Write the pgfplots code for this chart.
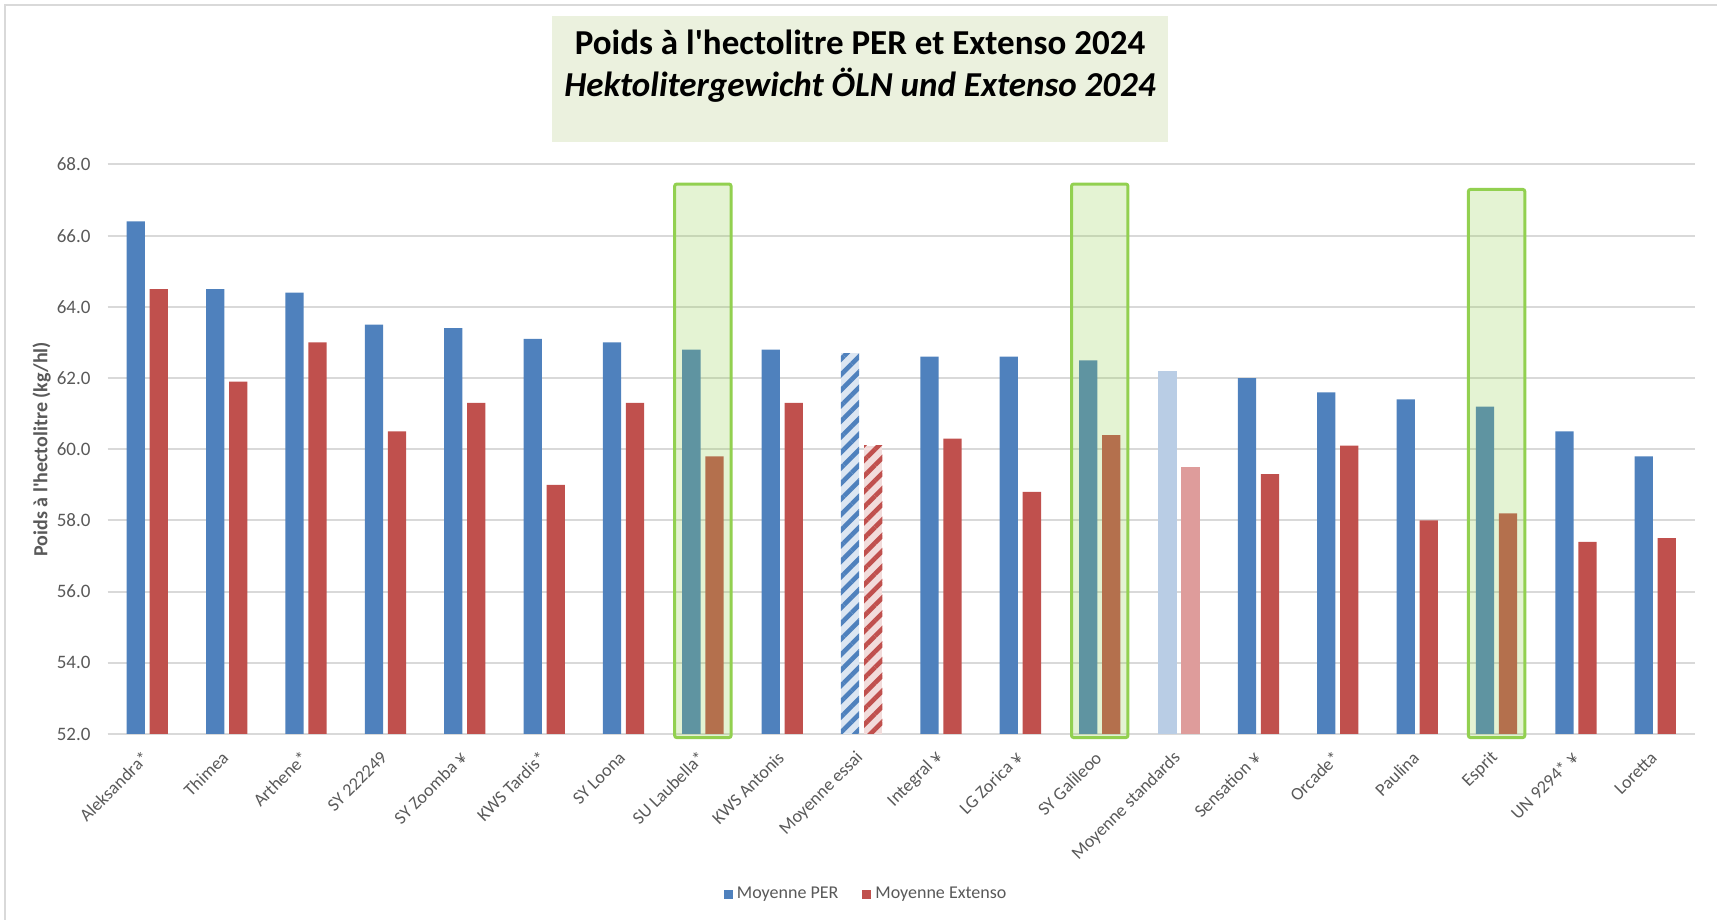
\documentclass[border=0pt]{standalone}
\usepackage{pgfplots}
\pgfplotsset{compat=1.18}
\usepackage{fontspec}
\setmainfont{Carlito}
\usetikzlibrary{patterns.meta}
\definecolor{perblue}{HTML}{4F81BD}
\definecolor{extred}{HTML}{C0504D}
\definecolor{perlight}{HTML}{B9CDE5}
\definecolor{extlight}{HTML}{DE9C9B}
\definecolor{essaiblue}{HTML}{DCE6F2}
\definecolor{essaired}{HTML}{F2DCDB}
\definecolor{gridgray}{HTML}{D9D9D9}
\definecolor{txtgray}{HTML}{595959}
\definecolor{titlebg}{HTML}{EBF1DE}
\definecolor{boxgreen}{HTML}{92D050}
\begin{document}
\begin{tikzpicture}
\path[use as bounding box] (0,0) rectangle (858.5pt,460pt);
\draw[gridgray, line width=1pt] (2.5pt,0) -- (2.5pt,457.5pt) -- (858.5pt,457.5pt);
\fill[titlebg] (276pt,389pt) rectangle (584pt,452pt);
\node[font=\fontsize{17.5}{20}\selectfont\bfseries] at (430pt,439pt) {Poids à l\textquotesingle hectolitre PER et Extenso 2024};
\node[font=\fontsize{17.5}{20}\selectfont\bfseries\itshape] at (430pt,417.5pt) {Hektolitergewicht ÖLN und Extenso 2024};
\begin{axis}[
  at={(53.8pt,93pt)}, anchor=south west,
  scale only axis, width=793.7pt, height=284.75pt,
  xmin=-0.5, xmax=19.5, ymin=52, ymax=68,
  ybar, bar width=0.23,
  clip mode=individual,
  axis x line*=bottom, axis y line*=left,
  x axis line style={draw=gridgray, line width=1pt},
  y axis line style={draw=none},
  tick style={draw=none},
  ymajorgrids, major grid style={draw=gridgray, line width=1pt},
  ytick={52,54,...,68},
  yticklabel style={font=\fontsize{9.5}{11}\selectfont, text=txtgray, /pgf/number format/fixed, /pgf/number format/fixed zerofill, /pgf/number format/precision=1, /pgf/number format/assume math mode=true},
  yticklabel shift=5pt,
  xtick={0,...,19},
  xticklabels={Aleksandra*, Thimea, Arthene*, SY 222249, SY Zoomba ¥, KWS Tardis*, SY Loona, SU Laubella*, KWS Antonis, Moyenne essai, Integral ¥, LG Zorica ¥, SY Galileoo, Moyenne standards, Sensation ¥, Orcade*, Paulina, Esprit, UN 9294* ¥, Loretta},
  xticklabel style={rotate=45, anchor=east, xshift=2.5pt, font=\fontsize{9}{11}\selectfont, text=txtgray},
  xticklabel shift=5.5pt,
  ylabel={Poids à l\textquotesingle hectolitre (kg/hl)},
  ylabel style={at={(axis description cs:-0.0416,0.5)}, anchor=center, font=\fontsize{10}{12}\selectfont\bfseries, text=txtgray},
  legend style={at={(axis description cs:0.4785,-0.282)}, anchor=center, draw=none, legend columns=-1, font=\fontsize{9}{11}\selectfont, text=txtgray, /tikz/every even column/.append style={column sep=10pt}},
  legend image code/.code={\fill[#1] (0pt,-2.25pt) rectangle (4.5pt,2.25pt);},
]
\addplot[fill=perblue, draw=none, bar shift=-0.145] coordinates {
(0,66.4) (1,64.5) (2,64.4) (3,63.5) (4,63.4) (5,63.1) (6,63.0) (7,62.8) (8,62.8)
(10,62.6) (11,62.6) (12,62.5) (14,62.0) (15,61.6) (16,61.4) (17,61.2) (18,60.5) (19,59.8)};
\addlegendentry{Moyenne PER}
\addplot[fill=extred, draw=none, bar shift=0.145] coordinates {
(0,64.5) (1,61.9) (2,63.0) (3,60.5) (4,61.3) (5,59.0) (6,61.3) (7,59.8) (8,61.3)
(10,60.3) (11,58.8) (12,60.4) (14,59.3) (15,60.1) (16,58.0) (17,58.2) (18,57.4) (19,57.5)};
\addlegendentry{Moyenne Extenso}
\addplot[forget plot, fill=essaiblue, draw=none, bar shift=-0.145, postaction={pattern={Lines[angle=45,distance=5.5pt,line width=2.3pt]}, pattern color=perblue}] coordinates {(9,62.7)};
\addplot[forget plot, fill=essaired, draw=none, bar shift=0.145, postaction={pattern={Lines[angle=45,distance=5.5pt,line width=2.3pt]}, pattern color=extred}] coordinates {(9,60.1)};
\addplot[forget plot, fill=perlight, draw=none, bar shift=-0.145] coordinates {(13,62.2)};
\addplot[forget plot, fill=extlight, draw=none, bar shift=0.145] coordinates {(13,59.5)};
\draw[draw=boxgreen, line width=1.5pt, fill=boxgreen, fill opacity=0.25, rounded corners=1pt] (axis cs:6.645,51.9) rectangle (axis cs:7.355,67.45);
\draw[draw=boxgreen, line width=1.5pt, fill=boxgreen, fill opacity=0.25, rounded corners=1pt] (axis cs:11.645,51.9) rectangle (axis cs:12.355,67.45);
\draw[draw=boxgreen, line width=1.5pt, fill=boxgreen, fill opacity=0.25, rounded corners=1pt] (axis cs:16.645,51.9) rectangle (axis cs:17.355,67.3);
\end{axis}
\end{tikzpicture}
\end{document}
